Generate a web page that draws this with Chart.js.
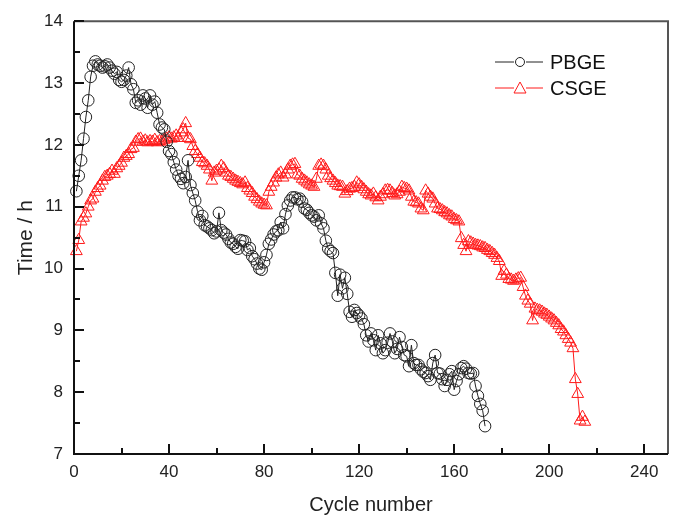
<!DOCTYPE html>
<html>
<head>
<meta charset="utf-8">
<script src="https://cdn.jsdelivr.net/npm/chart.js@4.4.1/dist/chart.umd.min.js"></script>
<style>
html,body{margin:0;padding:0;background:#fff;}
#wrap{position:relative;width:676px;height:517px;}
</style>
</head>
<body>
<div id="wrap"><canvas id="c" width="676" height="517"></canvas></div>
<script>
// ---- Data ----
const seriesNames = ["PBGE", "CSGE"];
const xTicks = [0, 40, 80, 120, 160, 200, 240];
const yTicks = [7, 8, 9, 10, 11, 12, 13, 14];
const xTitle = "Cycle number";
const yTitle = "Time / h";

// PBGE: discharge time per cycle, cycles 1..173
const pbgeValues = [
 11.25,11.5,11.75,12.1,12.45,12.72,13.1,13.28,13.35,13.3,
 13.28,13.25,13.27,13.3,13.25,13.2,13.15,13.18,13.05,13.02,
 13.05,13.12,13.25,12.98,12.9,12.68,12.72,12.65,12.8,12.75,
 12.6,12.8,12.65,12.7,12.52,12.33,12.28,12.25,12.05,11.9,
 11.85,11.72,11.6,11.5,11.45,11.38,11.48,11.75,11.35,11.22,
 11.1,10.92,10.78,10.85,10.7,10.68,10.65,10.62,10.57,10.6,
 10.9,10.62,10.58,10.55,10.48,10.42,10.4,10.35,10.32,10.46,
 10.45,10.44,10.3,10.33,10.2,10.15,10.08,10.0,9.98,10.1,
 10.22,10.4,10.47,10.55,10.6,10.62,10.75,10.65,10.88,11.02,
 11.1,11.15,11.15,11.12,11.13,11.08,10.97,10.95,10.9,10.86,
 10.84,10.78,10.86,10.73,10.65,10.45,10.32,10.28,10.25,9.93,
 9.56,9.9,9.68,9.85,9.59,9.3,9.22,9.33,9.28,9.24,
 9.19,9.1,8.92,8.82,8.95,8.84,8.68,8.92,8.79,8.63,
 8.68,8.8,8.95,8.82,8.63,8.7,8.89,8.73,8.6,8.58,
 8.42,8.76,8.47,8.44,8.44,8.37,8.33,8.31,8.26,8.2,
 8.47,8.6,8.31,8.3,8.21,8.1,8.2,8.29,8.34,8.04,
 8.18,8.29,8.39,8.42,8.38,8.31,8.3,8.31,8.1,7.94,
 7.81,7.7,7.45
];

// CSGE: discharge time per cycle, cycles 1..215
const csgeValues = [
 10.28,10.46,10.76,10.82,10.89,11.0,11.1,11.13,11.24,11.3,
 11.34,11.42,11.48,11.5,11.53,11.58,11.53,11.62,11.66,11.71,
 11.79,11.82,11.85,11.93,11.95,12.05,12.09,12.1,12.05,12.07,
 12.04,12.06,12.05,12.08,12.04,12.06,12.05,12.08,12.1,12.12,
 12.1,12.12,12.15,12.11,12.2,12.25,12.35,12.11,12.09,11.98,
 11.9,11.85,11.79,11.72,11.7,11.66,11.6,11.42,11.55,11.58,
 11.6,11.66,11.62,11.55,11.5,11.48,11.45,11.42,11.4,11.38,
 11.36,11.39,11.3,11.26,11.22,11.16,11.12,11.08,11.05,11.03,
 11.02,11.24,11.32,11.39,11.47,11.52,11.55,11.47,11.52,11.6,
 11.66,11.68,11.69,11.52,11.5,11.45,11.42,11.39,11.36,11.34,
 11.32,11.45,11.66,11.68,11.66,11.6,11.5,11.46,11.42,11.38,
 11.34,11.33,11.32,11.21,11.25,11.29,11.3,11.32,11.39,11.36,
 11.32,11.28,11.24,11.2,11.18,11.21,11.15,11.1,11.16,11.2,
 11.26,11.27,11.26,11.22,11.18,11.2,11.24,11.32,11.3,11.29,
 11.26,11.16,11.08,11.07,11.05,10.97,10.94,11.26,11.21,11.16,
 11.13,11.05,10.97,10.96,10.94,10.91,10.89,10.86,10.84,10.8,
 10.78,10.76,10.49,10.38,10.28,10.44,10.42,10.4,10.38,10.37,
 10.36,10.34,10.33,10.3,10.28,10.25,10.22,10.17,10.12,9.88,
 9.96,9.9,9.83,9.82,9.8,9.82,9.84,9.85,9.7,9.56,
 9.48,9.43,9.16,9.35,9.33,9.32,9.3,9.27,9.25,9.22,
 9.19,9.16,9.12,9.08,9.02,8.98,8.92,8.86,8.8,8.71,
 8.21,7.97,7.54,7.6,7.52
];

const toPoints = arr => arr.map((v, i) => ({x: i + 1, y: v}));

const FONT = "'Liberation Sans', Arial, Helvetica, sans-serif";

const framePlugin = {
  id: 'frame',
  afterDatasetsDraw(chart) {
    const ctx = chart.ctx;
    const {left, right, top, bottom} = chart.chartArea;
    const xs = chart.scales.x, ys = chart.scales.y;
    ctx.save();
    // top/right border (grey)
    ctx.strokeStyle = '#555';
    ctx.lineWidth = 2;
    ctx.beginPath();
    ctx.moveTo(left, top); ctx.lineTo(right, top); ctx.lineTo(right, bottom);
    ctx.stroke();
    // left/bottom axes
    ctx.strokeStyle = '#111';
    ctx.beginPath();
    ctx.moveTo(left, top); ctx.lineTo(left, bottom); ctx.lineTo(right, bottom);
    ctx.stroke();
    // inward ticks
    ctx.lineWidth = 2;
    ctx.beginPath();
    for (let v = 0; v <= 240; v += 20) {
      const px = Math.round(xs.getPixelForValue(v));
      const len = (v % 40 === 0) ? 10 : 6;
      ctx.moveTo(px, bottom); ctx.lineTo(px, bottom - len);
    }
    for (let v = 7; v <= 14.001; v += 0.5) {
      const py = Math.round(ys.getPixelForValue(v));
      const len = (Math.abs(v - Math.round(v)) < 0.01) ? 10 : 6;
      ctx.moveTo(left, py); ctx.lineTo(left + len, py);
    }
    ctx.stroke();

    // legend
    const items = chart.data.datasets;
    const lx0 = 495, lx1 = 543, mx = 520, tx = 550;
    const ly = [62, 88];
    items.forEach((ds, i) => {
      const y = ly[i];
      ctx.strokeStyle = ds.borderColor;
      ctx.lineWidth = 1;
      ctx.beginPath();
      ctx.moveTo(lx0, y); ctx.lineTo(mx - 6, y);
      ctx.moveTo(mx + 6, y); ctx.lineTo(lx1, y);
      ctx.stroke();
      ctx.beginPath();
      if (ds.pointStyle === 'circle') {
        ctx.arc(mx, y, 4.5, 0, Math.PI * 2);
      } else {
        ctx.moveTo(mx, y - 6); ctx.lineTo(mx + 6, y + 5); ctx.lineTo(mx - 6, y + 5); ctx.closePath();
      }
      ctx.stroke();
      ctx.fillStyle = '#111';
      ctx.font = '20px ' + FONT;
      ctx.textBaseline = 'middle';
      ctx.textAlign = 'left';
      ctx.fillText(ds.label, tx, y + 1);
    });
    ctx.restore();
  }
};

new Chart(document.getElementById('c'), {
  type: 'line',
  data: {
    datasets: [
      {
        label: seriesNames[0],
        data: toPoints(pbgeValues),
        borderColor: '#222',
        backgroundColor: 'rgba(0,0,0,0)',
        borderWidth: 1,
        pointStyle: 'circle',
        pointRadius: 5.8,
        pointBorderWidth: 1,
        pointBorderColor: '#222',
        pointBackgroundColor: 'rgba(0,0,0,0)',
        tension: 0,
        clip: false
      },
      {
        label: seriesNames[1],
        data: toPoints(csgeValues),
        borderColor: '#ff1a1a',
        backgroundColor: 'rgba(0,0,0,0)',
        borderWidth: 1,
        pointStyle: 'triangle',
        pointRadius: 6.8,
        pointBorderWidth: 1,
        pointBorderColor: '#ff1a1a',
        pointBackgroundColor: 'rgba(0,0,0,0)',
        tension: 0,
        clip: false
      }
    ]
  },
  options: {
    responsive: false,
    animation: false,
    devicePixelRatio: 1,
    layout: {padding: {top: 15, right: 8, left: 0, bottom: 0}},
    plugins: {legend: {display: false}, tooltip: {enabled: false}},
    scales: {
      x: {
        type: 'linear',
        min: 0, max: 250,
        afterFit: s => { s.height = 63; },
        afterBuildTicks: s => { s.ticks = xTicks.map(v => ({value: v})); },
        grid: {display: false, drawTicks: false},
        border: {display: false},
        ticks: {color: '#222', font: {family: FONT, size: 17}, padding: 8, maxRotation: 0, autoSkip: false},
        title: {display: true, text: xTitle, color: '#222', font: {family: FONT, size: 20}, padding: {top: 4, bottom: 0}}
      },
      y: {
        type: 'linear',
        min: 7, max: 14,
        afterFit: s => { s.width = 74; },
        afterBuildTicks: s => { s.ticks = yTicks.map(v => ({value: v})); },
        grid: {display: false, drawTicks: false},
        border: {display: false},
        ticks: {color: '#222', font: {family: FONT, size: 17}, padding: 11, autoSkip: false},
        title: {display: true, text: yTitle, color: '#222', font: {family: FONT, size: 21}, padding: {top: 14, bottom: 0}}
      }
    }
  },
  plugins: [framePlugin]
});
</script>
</body>
</html>
